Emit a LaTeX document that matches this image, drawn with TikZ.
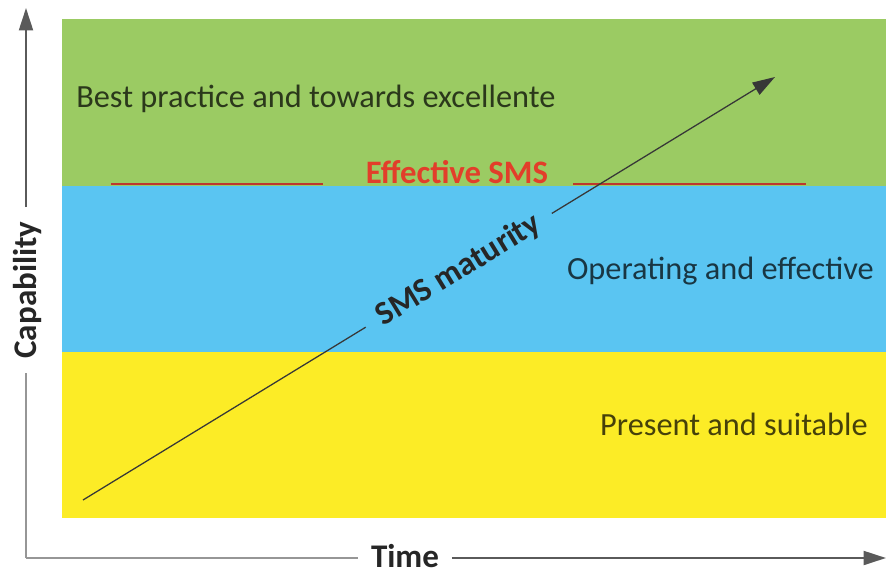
\documentclass[tikz,border=0pt]{standalone}
\usepackage{fontspec}
\setmainfont{Carlito}
\usetikzlibrary{arrows.meta, positioning, calc}
\definecolor{bandgreen}{RGB}{155,203,99}
\definecolor{bandblue}{RGB}{90,197,242}
\definecolor{bandyellow}{RGB}{252,236,38}
\definecolor{linered}{RGB}{190,55,45}
\definecolor{textred}{RGB}{226,62,42}
\definecolor{axisgray}{RGB}{150,150,150}
\definecolor{arrowgray}{RGB}{55,55,55}

\begin{document}
\begin{tikzpicture}[
  x=0.025cm, y=-0.025cm,
  >={Triangle[length=16pt, width=10pt]},
  lvl/.style={font=\fontsize{23}{26}\selectfont, text=black, text opacity=0.72,
              inner sep=0pt},
  axlbl/.style={font=\fontsize{23.5}{26}\selectfont\bfseries, text=black!85},
  axis/.style={draw=axisgray, line width=1.4pt},
  redline/.style={draw=linered, line width=2pt},
  growth/.style={draw=arrowgray, line width=0.9pt},
]
\useasboundingbox (0,0) rectangle (886,572);

%% Capability bands
\fill[bandgreen]  (62,19)  rectangle (886,186);
\fill[bandblue]   (62,186) rectangle (886,352);
\fill[bandyellow] (62,352) rectangle (886,518);

%% Band labels
\node[lvl, anchor=base west] (best) at (76,107)
  {Best practice and towards excellente};
\node[lvl, anchor=base east] (oper) at (874,279)
  {Operating and effective};
\node[lvl, anchor=base east] (pres) at (868,435)
  {Present and suitable};

%% Threshold between green and blue
\node[font=\fontsize{23.3}{26}\selectfont\bfseries, text=textred, anchor=base]
  (eff) at (457,183) {Effective SMS};
\draw[redline] (111,184) -- (323,184);
\draw[redline] (573,184) -- (806,184);

%% Axes
\coordinate (org)  at (26,558);
\coordinate (ytip) at (26,8);
\coordinate (xtip) at (886,558);
\node[axlbl, rotate=90, inner xsep=10pt] (cap) at (28,290) {Capability};
\node[axlbl, anchor=base, inner xsep=9pt, inner ysep=0pt] (time) at (405,567) {Time};
\draw[axis] (org) -- (org |- cap.west);
\draw[axis, ->, draw=axisgray!60!black] (org |- cap.east) -- (ytip);
\draw[axis] (org) -- (org -| time.west);
\draw[axis, ->, draw=axisgray!60!black] (org -| time.east) -- (xtip);

%% Maturity arrow
\coordinate (mstart) at (83,500);
\coordinate (mtip)   at (775,77);
\path (mstart) -- node[pos=0.543, sloped, inner xsep=11pt,
  font=\fontsize{23.5}{26}\selectfont\bfseries, text=black!85] (mat) {SMS maturity} (mtip);
\draw[growth] (mstart) -- (mat.west);
\draw[growth, ->] (mat.east) -- (mtip);

\end{tikzpicture}
\end{document}
